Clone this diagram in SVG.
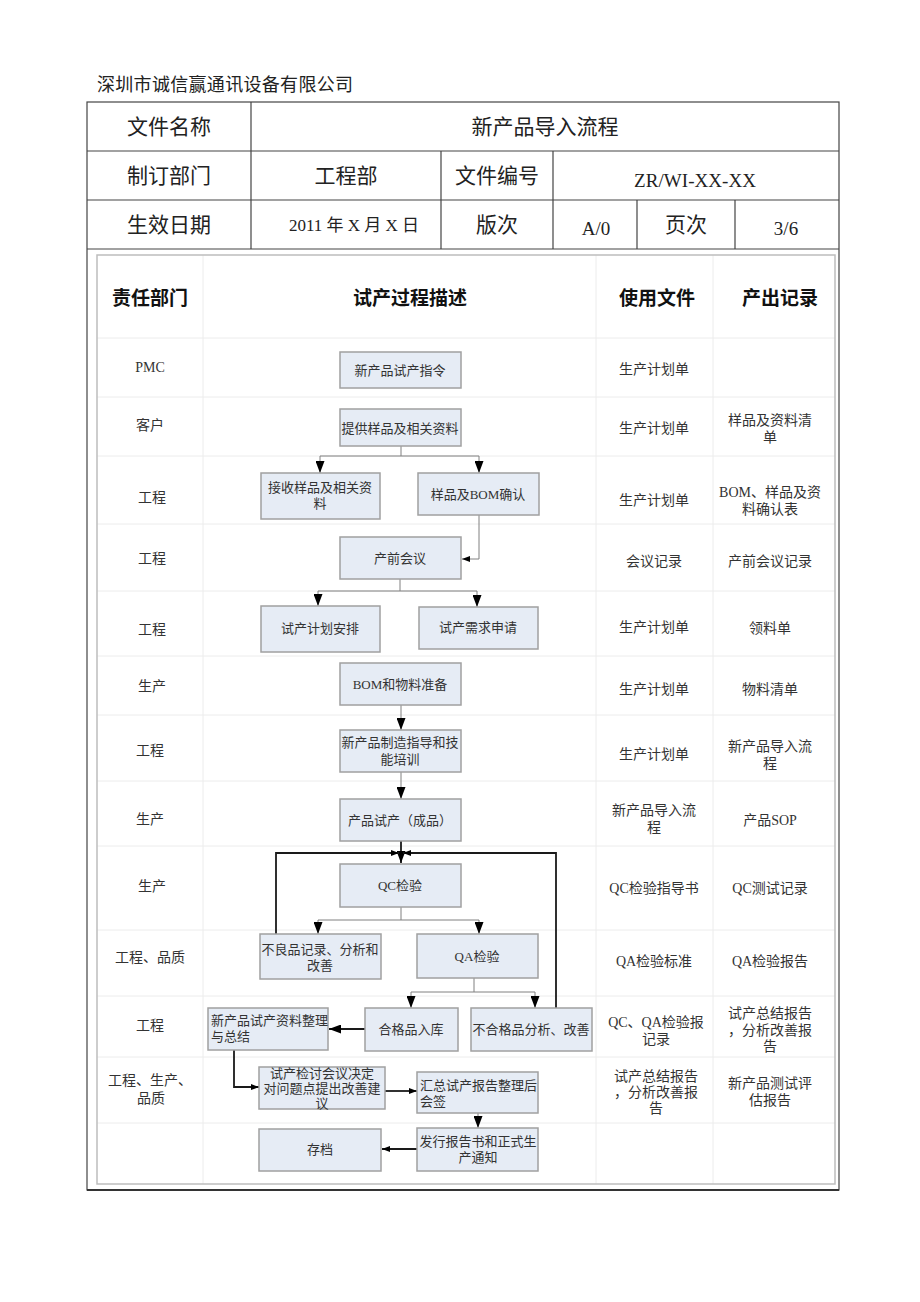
<svg xmlns="http://www.w3.org/2000/svg" width="920" height="1302" viewBox="0 0 920 1302">
<style>
text{font-family:"Liberation Serif","Noto Sans CJK SC",serif;fill:#222}
.hd{font-size:21px;text-anchor:middle}
.ch{font-size:19px;text-anchor:middle;font-weight:bold;fill:#111}
.c{font-size:14px;text-anchor:middle;fill:#333}
.b{font-size:13px;text-anchor:middle;fill:#333}
.bl{font-size:13px;fill:#333}
.box{fill:#e6ecf5;stroke:#a0a0a0;stroke-width:1.5}
.og{fill:none;stroke:#444;stroke-width:1.2}
.ig{fill:none;stroke:#ececec;stroke-width:1}
.ib{fill:none;stroke:#bdbdbd;stroke-width:1.5}
.thin{fill:none;stroke:#808080;stroke-width:1}
.thick{fill:none;stroke:#1a1a1a;stroke-width:1.8}
</style>
<defs>
<marker id="ah" viewBox="0 0 10 10" refX="10" refY="5" markerWidth="12" markerHeight="9" markerUnits="userSpaceOnUse" orient="auto" preserveAspectRatio="none"><path d="M0,0 L10,5 L0,10 z" fill="#000"/></marker>
<marker id="as" viewBox="0 0 10 10" refX="10" refY="5" markerWidth="8" markerHeight="6" markerUnits="userSpaceOnUse" orient="auto" preserveAspectRatio="none"><path d="M0,0 L10,5 L0,10 z" fill="#000"/></marker>
</defs>
<rect width="920" height="1302" fill="#fff"/>

<g id="header">
<text x="97" y="91" style="font-size:18px" textLength="256">深圳市诚信赢通讯设备有限公司</text>
<rect class="og" x="87" y="102" width="752" height="1088"/>
<line class="og" x1="87" y1="151" x2="839" y2="151"/>
<line class="og" x1="87" y1="200" x2="839" y2="200"/>
<line class="og" x1="87" y1="249" x2="839" y2="249"/>
<line class="og" x1="251" y1="102" x2="251" y2="249"/>
<line class="og" x1="441" y1="151" x2="441" y2="249"/>
<line class="og" x1="553" y1="151" x2="553" y2="249"/>
<line class="og" x1="637" y1="200" x2="637" y2="249"/>
<line class="og" x1="735" y1="200" x2="735" y2="249"/>
<line x1="87" y1="1190" x2="839" y2="1190" stroke="#333" stroke-width="2"/>
<text class="hd" x="169" y="134">文件名称</text>
<text class="hd" x="545" y="134">新产品导入流程</text>
<text class="hd" x="169" y="183">制订部门</text>
<text class="hd" x="346" y="183">工程部</text>
<text class="hd" x="497" y="183">文件编号</text>
<text class="hd" x="695" y="187" style="font-size:19px" textLength="122">ZR/WI-XX-XX</text>
<text class="hd" x="169" y="232">生效日期</text>
<text class="hd" x="354" y="231" style="font-size:17px" xml:space="preserve">2011 年 X 月 X 日</text>
<text class="hd" x="497" y="232">版次</text>
<text class="hd" x="596" y="235" style="font-size:19px">A/0</text>
<text class="hd" x="686" y="232">页次</text>
<text class="hd" x="786" y="235" style="font-size:19px">3/6</text>
</g>

<g id="grid">
<line class="ig" x1="97" y1="338" x2="835" y2="338"/>
<line class="ig" x1="97" y1="397" x2="835" y2="397"/>
<line class="ig" x1="97" y1="456" x2="835" y2="456"/>
<line class="ig" x1="97" y1="524" x2="835" y2="524"/>
<line class="ig" x1="97" y1="591" x2="835" y2="591"/>
<line class="ig" x1="97" y1="656" x2="835" y2="656"/>
<line class="ig" x1="97" y1="715" x2="835" y2="715"/>
<line class="ig" x1="97" y1="781" x2="835" y2="781"/>
<line class="ig" x1="97" y1="846" x2="835" y2="846"/>
<line class="ig" x1="97" y1="930" x2="835" y2="930"/>
<line class="ig" x1="97" y1="996" x2="835" y2="996"/>
<line class="ig" x1="97" y1="1057" x2="835" y2="1057"/>
<line class="ig" x1="97" y1="1123" x2="835" y2="1123"/>
<line class="ig" x1="203" y1="255" x2="203" y2="1184"/>
<line class="ig" x1="596" y1="255" x2="596" y2="1184"/>
<line class="ig" x1="713" y1="255" x2="713" y2="1184"/>
<rect class="ib" x="97" y="255" width="738" height="929"/>
</g>

<g id="colheads">
<text class="ch" x="150" y="305">责任部门</text>
<text class="ch" x="410" y="305">试产过程描述</text>
<text class="ch" x="657" y="305">使用文件</text>
<text class="ch" x="780" y="305">产出记录</text>
</g>

<g id="depts">
<text class="c" x="150" y="372">PMC</text>
<text class="c" x="150" y="430">客户</text>
<text class="c" x="152" y="502">工程</text>
<text class="c" x="152" y="563">工程</text>
<text class="c" x="152" y="634">工程</text>
<text class="c" x="152" y="691">生产</text>
<text class="c" x="150" y="755">工程</text>
<text class="c" x="150" y="824">生产</text>
<text class="c" x="152" y="891">生产</text>
<text class="c" x="150" y="962">工程、品质</text>
<text class="c" x="150" y="1030">工程</text>
<text class="c" x="150" y="1085">工程、生产、</text>
<text class="c" x="151" y="1103">品质</text>
</g>

<g id="docs">
<text class="c" x="654" y="374">生产计划单</text>
<text class="c" x="654" y="433">生产计划单</text>
<text class="c" x="654" y="505">生产计划单</text>
<text class="c" x="654" y="566">会议记录</text>
<text class="c" x="654" y="632">生产计划单</text>
<text class="c" x="654" y="694">生产计划单</text>
<text class="c" x="654" y="759">生产计划单</text>
<text class="c" x="654" y="815">新产品导入流</text>
<text class="c" x="654" y="832">程</text>
<text class="c" x="654" y="893">QC检验指导书</text>
<text class="c" x="654" y="966">QA检验标准</text>
<text class="c" x="656" y="1027">QC、QA检验报</text>
<text class="c" x="656" y="1044">记录</text>
<text class="c" x="656" y="1081">试产总结报告</text>
<text class="c" x="656" y="1097">，分析改善报</text>
<text class="c" x="656" y="1113">告</text>
</g>

<g id="records">
<text class="c" x="770" y="425">样品及资料清</text>
<text class="c" x="770" y="442">单</text>
<text class="c" x="770" y="497">BOM、样品及资</text>
<text class="c" x="770" y="514">料确认表</text>
<text class="c" x="770" y="566">产前会议记录</text>
<text class="c" x="770" y="633">领料单</text>
<text class="c" x="770" y="694">物料清单</text>
<text class="c" x="770" y="751">新产品导入流</text>
<text class="c" x="770" y="768">程</text>
<text class="c" x="770" y="825">产品SOP</text>
<text class="c" x="770" y="893">QC测试记录</text>
<text class="c" x="770" y="966">QA检验报告</text>
<text class="c" x="770" y="1018">试产总结报告</text>
<text class="c" x="770" y="1035">，分析改善报</text>
<text class="c" x="770" y="1051">告</text>
<text class="c" x="770" y="1088">新产品测试评</text>
<text class="c" x="770" y="1105">估报告</text>
</g>

<g id="connectors">
<path class="thin" d="M401,446 V456 M320,456 H479"/>
<path class="thin" d="M320,456 V473" marker-end="url(#ah)"/>
<path class="thin" d="M479,456 V473" marker-end="url(#ah)"/>
<path class="thin" d="M479,515 V559 H462" marker-end="url(#as)"/>
<path class="thin" d="M400,579 V591 M318,591 H477"/>
<path class="thin" d="M318,591 V606" marker-end="url(#ah)"/>
<path class="thin" d="M477,591 V607" marker-end="url(#ah)"/>
<path class="thin" d="M401,705 V730" marker-end="url(#ah)"/>
<path class="thin" d="M401,772 V799" marker-end="url(#ah)"/>
<path class="thick" d="M401,841 V863" marker-end="url(#ah)"/>
<path class="thick" d="M276,934 V853 H399" marker-end="url(#as)"/>
<path class="thick" d="M556,1008 V853 H403" marker-end="url(#as)"/>
<path class="thin" d="M401,907 V920 M318,920 H479"/>
<path class="thin" d="M318,920 V934" marker-end="url(#ah)"/>
<path class="thin" d="M479,920 V934" marker-end="url(#ah)"/>
<path class="thin" d="M474,978 V992 M411,992 H535"/>
<path class="thin" d="M411,992 V1008" marker-end="url(#ah)"/>
<path class="thin" d="M535,992 V1008" marker-end="url(#ah)"/>
<path class="thick" d="M365,1029 H329" marker-end="url(#ah)"/>
<path class="thick" d="M234,1050 V1087 H259" marker-end="url(#as)"/>
<path class="thick" d="M385,1091 H417" marker-end="url(#as)"/>
<path class="thin" d="M478,1113 V1128" marker-end="url(#ah)"/>
<path class="thick" d="M417,1149 H382" marker-end="url(#as)"/>
</g>

<g id="n1"><rect class="box" x="340" y="352" width="121" height="36"/><text class="b" x="400" y="375">新产品试产指令</text></g>
<g id="n2"><rect class="box" x="340" y="409" width="121" height="37"/><text class="b" x="400" y="433">提供样品及相关资料</text></g>
<g id="n3"><rect class="box" x="261" y="473" width="119" height="46"/><text class="b" x="320" y="492">接收样品及相关资</text><text class="b" x="320" y="508">料</text></g>
<g id="n4"><rect class="box" x="418" y="473" width="121" height="42"/><text class="b" x="478" y="499">样品及BOM确认</text></g>
<g id="n5"><rect class="box" x="340" y="537" width="121" height="42"/><text class="b" x="400" y="563">产前会议</text></g>
<g id="n6"><rect class="box" x="261" y="606" width="119" height="46"/><text class="b" x="320" y="633">试产计划安排</text></g>
<g id="n7"><rect class="box" x="419" y="607" width="119" height="42"/><text class="b" x="478" y="632">试产需求申请</text></g>
<g id="n8"><rect class="box" x="340" y="663" width="121" height="42"/><text class="b" x="400" y="689">BOM和物料准备</text></g>
<g id="n9"><rect class="box" x="340" y="730" width="121" height="42"/><text class="b" x="400" y="747">新产品制造指导和技</text><text class="b" x="400" y="764">能培训</text></g>
<g id="n10"><rect class="box" x="340" y="799" width="121" height="42"/><text class="b" x="400" y="825">产品试产（成品）</text></g>
<g id="n11"><rect class="box" x="340" y="864" width="121" height="43"/><text class="b" x="400" y="890">QC检验</text></g>
<g id="n12"><rect class="box" x="260" y="934" width="121" height="45"/><text class="b" x="320" y="954">不良品记录、分析和</text><text class="b" x="320" y="970">改善</text></g>
<g id="n13"><rect class="box" x="417" y="934" width="121" height="44"/><text class="b" x="477" y="961">QA检验</text></g>
<g id="n14"><rect class="box" x="208" y="1008" width="120" height="42"/><text class="bl" x="211" y="1025">新产品试产资料整理</text><text class="bl" x="211" y="1041">与总结</text></g>
<g id="n15"><rect class="box" x="365" y="1008" width="93" height="43"/><text class="b" x="411" y="1034">合格品入库</text></g>
<g id="n16"><rect class="box" x="471" y="1008" width="121" height="43"/><text class="b" x="531" y="1034">不合格品分析、改善</text></g>
<g id="n17"><rect class="box" x="259" y="1067" width="126" height="42"/><text class="b" x="322" y="1078">试产检讨会议决定</text><text class="b" x="322" y="1093">对问题点提出改善建</text><text class="b" x="322" y="1108">议</text></g>
<g id="n18"><rect class="box" x="417" y="1072" width="121" height="41"/><text class="bl" x="420" y="1090">汇总试产报告整理后</text><text class="bl" x="420" y="1106">会签</text></g>
<g id="n19"><rect class="box" x="259" y="1129" width="122" height="42"/><text class="b" x="320" y="1154">存档</text></g>
<g id="n20"><rect class="box" x="417" y="1128" width="121" height="43"/><text class="b" x="478" y="1146">发行报告书和正式生</text><text class="b" x="478" y="1162">产通知</text></g>
</svg>
